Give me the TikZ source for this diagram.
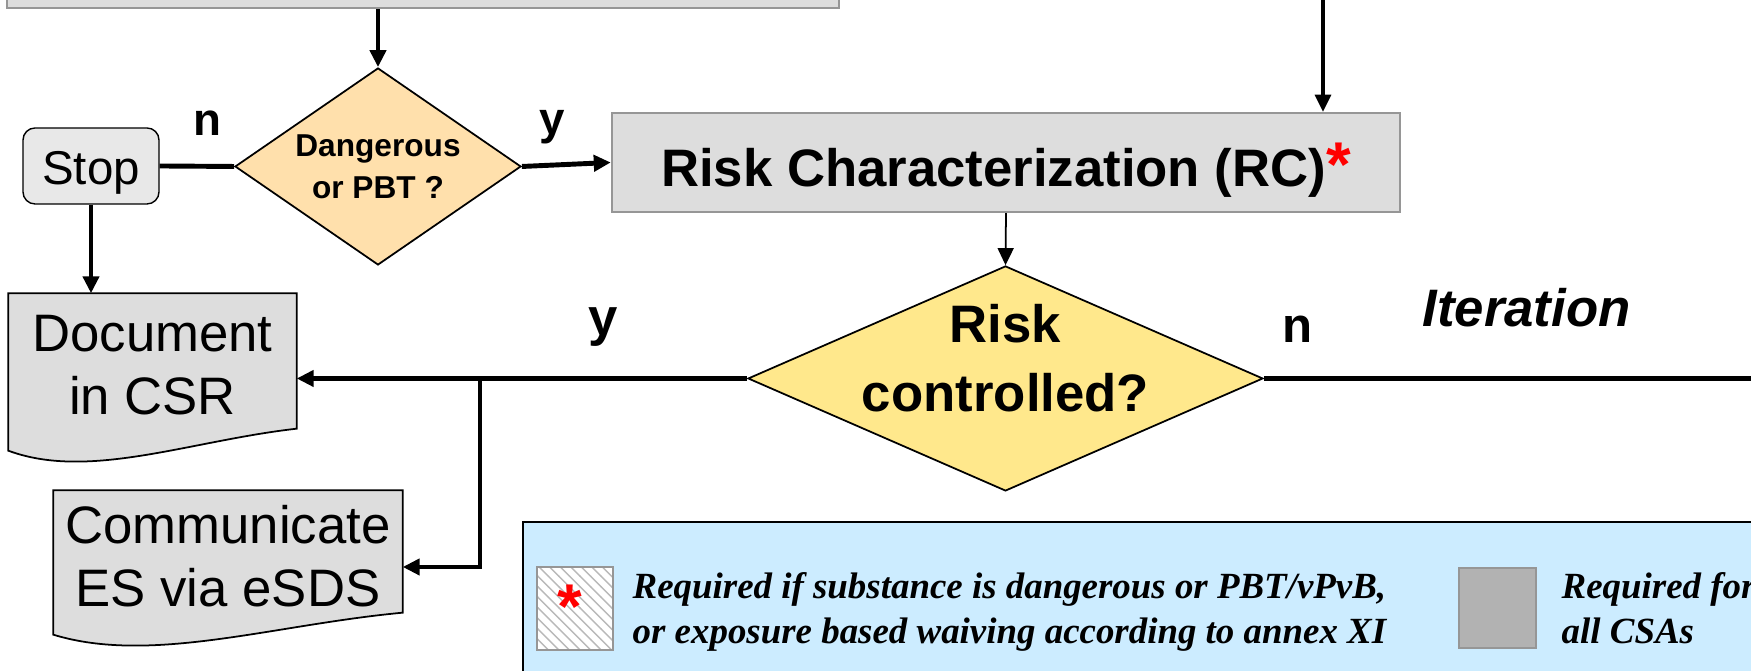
\documentclass[tikz,border=0pt]{standalone}
\usepackage{fontspec}
\setmainfont{Liberation Sans}
\newfontfamily\notefont{Liberation Serif}
\usetikzlibrary{shapes.geometric,arrows.meta,calc,backgrounds,patterns}

\definecolor{boxgray}{RGB}{221,221,221}
\definecolor{edgegray}{RGB}{150,150,150}
\definecolor{stopgray}{RGB}{232,232,232}
\definecolor{peach}{RGB}{255,224,172}
\definecolor{lemon}{RGB}{255,232,140}
\definecolor{legendblue}{RGB}{204,236,255}
\definecolor{swatchgray}{RGB}{178,178,178}

\tikzset{
  box/.style={draw=edgegray, fill=boxgray, line width=0.7pt, inner sep=0pt},
  decision/.style={diamond, draw, fill=#1, line width=0.5pt, inner sep=0pt, align=center},
  doctext/.style={inner sep=0pt, align=center, font=\fontsize{15}{18}\selectfont},
  docline/.style={draw, fill=boxgray, line width=0.5pt},
  flow/.style={line width=1.4pt},
  tag/.style={inner sep=0pt, font=\fontsize{13}{13}\selectfont\bfseries},
  note/.style={inner sep=0pt, align=left, font=\notefont\fontsize{10.5}{12.8}\selectfont\bfseries\itshape}
}

% outline of a document symbol round a text node
\newcommand{\docoutline}[1]{%
  \begin{scope}[on background layer]
    \draw[docline] (#1.north west) -- (#1.north east) -- ([yshift=0.09cm]#1.south east)
      .. controls ($(#1.south west)!0.63!(#1.south east)+(0,-0.03)$)
      and ($(#1.south west)!0.28!(#1.south east)+(0,-0.43)$) .. ([yshift=-0.13cm]#1.south west) -- cycle;
  \end{scope}}

\begin{document}
\begin{tikzpicture}[>={Triangle[length=0.17cm,width=0.16cm]}]
  \useasboundingbox (0,0) rectangle (17.51,6.71);
  \clip (0,0) rectangle (17.51,6.71);
  % step above, cut by the page
  \node[box, minimum width=8.32cm, minimum height=1cm] (prev) at (4.23,7.13) {};
  % first test
  \node[decision=peach, minimum width=2.86cm, minimum height=1.97cm, aspect=1.45,
        font=\fontsize{9}{12}\selectfont\bfseries] (dang) at (3.78,5.045) {Dangerous\\or PBT ?};
  \node[draw, fill=stopgray, rounded corners=0.12cm, minimum width=1.36cm, minimum height=0.76cm,
        inner sep=0pt, text height=0.5cm, text depth=0.12cm, font=\fontsize{13.5}{16}\selectfont] (stop) at (0.91,5.05) {Stop};
  \node[box, minimum width=7.88cm, minimum height=0.99cm, text height=0.59cm, text depth=0.1cm,
        font=\fontsize{15}{18}\selectfont\bfseries] (rc) at (10.06,5.085)
        {Risk Characterization (RC){\fontsize{18}{18}\selectfont\textcolor{red}{*}}};
  % second test
  \node[decision=lemon, minimum width=5.15cm, minimum height=2.25cm,
        label={[align=center, yshift=0.205cm, font=\fontsize{15}{19.5}\selectfont\bfseries]center:{Risk\\controlled?}}] (rcq) at (10.055,2.925) {};
  % documents
  \node[doctext, minimum width=2.87cm, minimum height=1.43cm] (doc) at (1.525,3.055) {Document\\in CSR};
  \node[doctext, minimum width=3.48cm, minimum height=1.30cm] (comm) at (2.28,1.15) {Communicate\\ES via eSDS};
  \docoutline{doc}
  \docoutline{comm}
  % labels
  \node[tag] (dno) at (2.07,5.48) {n};
  \node[tag] (dyes) at (5.52,5.435) {y};
  \node[tag, font=\fontsize{15}{15}\selectfont\bfseries] (ryes) at (6.03,3.44) {y};
  \node[tag, font=\fontsize{14}{14}\selectfont\bfseries] (rno) at (12.98,3.42) {n};
  \node[anchor=base, inner sep=0pt, font=\fontsize{15}{18}\selectfont\bfseries\itshape] (iter) at (15.265,3.44) {Iteration};
  % arrows
  \coordinate (feed) at (13.23,6.9);
  \coordinate (split) at (4.80,2.925);
  \coordinate (loop) at (17.8,2.925);
  \draw[->, line width=1.2pt] (prev.south -| dang.north) -- (dang.north);
  \draw[flow] (stop.east) -- (dang.west);
  \draw[flow, ->] (dang.east) -- (rc.west);
  \draw[flow, ->] (stop.south) -- (stop.south |- doc.north);
  \draw[->, line width=0.9pt] (feed) -- (feed |- rc.north);
  \draw[->, line width=0.5pt] (rc.south) -- (rcq.north);
  \draw[flow] (rcq.east) -- (loop);
  \draw[flow, ->] (rcq.west) -- (rcq.west -| doc.east);
  \draw[flow, ->] (split) |- ([yshift=-0.11cm]comm.east);
  % legend
  \node[draw, line width=0.6pt, fill=legendblue, minimum width=12.57cm, minimum height=1.79cm] (legend) at (11.515,0.595) {};
  \node[draw=edgegray, line width=0.8pt, preaction={fill=white}, pattern=north west lines, pattern color=gray!55,
        minimum width=0.76cm, minimum height=0.83cm] (optional) at (5.75,0.625) {};
  \node[anchor=base, inner sep=0pt, text=red, font=\fontsize{18}{18}\selectfont\bfseries] (star) at (5.70,0.42) {*};
  \node[draw=edgegray, line width=0.8pt, fill=swatchgray, minimum width=0.77cm, minimum height=0.80cm] (always) at (14.975,0.63) {};
  \node[note, anchor=west] (optnote) at (6.32,0.59) {Required if substance is dangerous or PBT/vPvB,\\or exposure based waiving according to annex XI};
  \node[note, anchor=west] (allnote) at (15.61,0.625) {Required for\\all CSAs};
\end{tikzpicture}
\end{document}
